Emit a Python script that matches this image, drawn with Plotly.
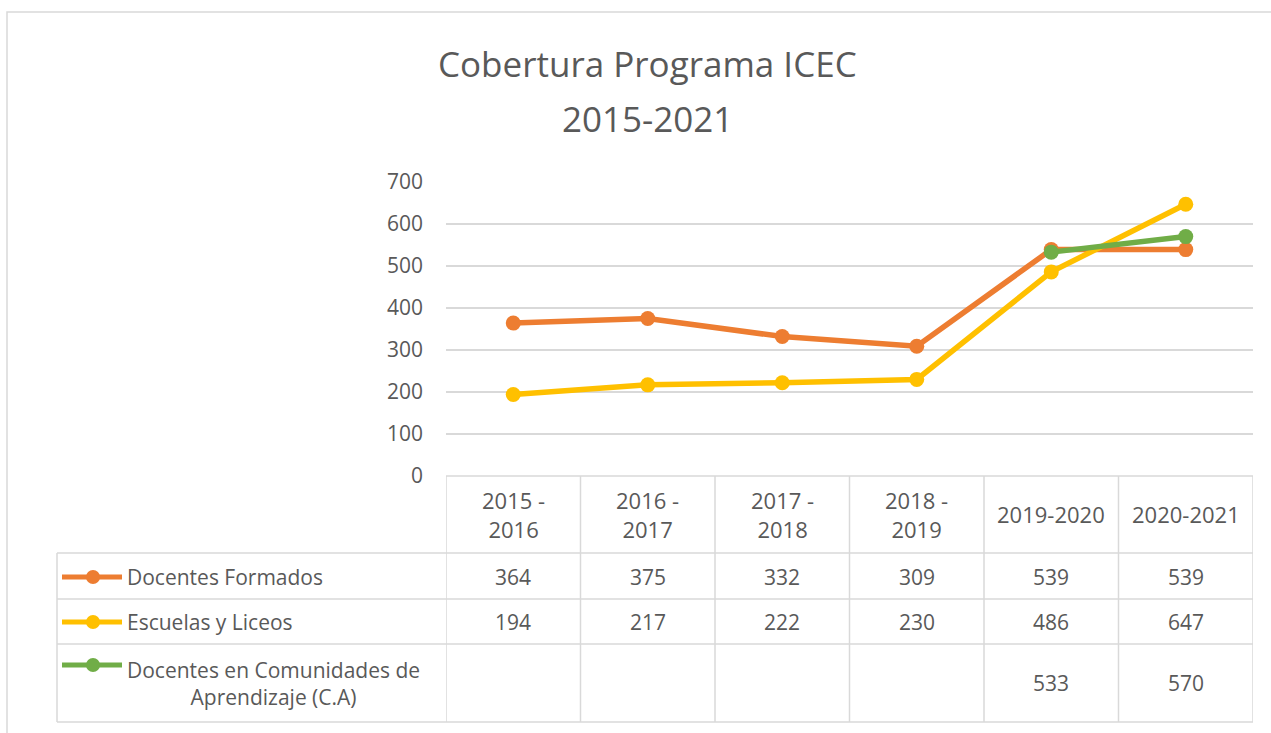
import plotly.graph_objects as go

# ---- data ----
categories = ["2015 - 2016", "2016 - 2017", "2017 - 2018", "2018 - 2019", "2019-2020", "2020-2021"]
series_names = ["Docentes Formados", "Escuelas y Liceos", "Docentes en Comunidades de Aprendizaje (C.A)"]
docentes_formados = [364, 375, 332, 309, 539, 539]
escuelas_liceos = [194, 217, 222, 230, 486, 647]
docentes_ca = [None, None, None, None, 533, 570]
y_ticks = [0, 100, 200, 300, 400, 500, 600, 700]
title_lines = ["Cobertura Programa ICEC", "2015-2021"]

series_values = [docentes_formados, escuelas_liceos, docentes_ca]
colors = ["#ED7D31", "#FFC000", "#70AD47"]
TXT = "#595959"
GRID = "#d9d9d9"
FONT = "Open Sans"

W, H = 1271, 733
L, R, T, B = 446, 18, 182, 257
PW = W - L - R
PH = H - T - B


def px(x):
    return (x - L) / PW


def py(y):
    return (H - B - y) / PH


fig = go.Figure()
for name, vals, c in zip(series_names, series_values, colors):
    fig.add_trace(go.Scatter(
        x=categories, y=vals, name=name, mode="lines+markers",
        line=dict(color=c, width=5.5), marker=dict(color=c, size=15),
        cliponaxis=False, showlegend=False,
    ))

shapes = []
ann = []

# frame around chart
shapes.append(dict(type="rect", xref="paper", yref="paper",
                   x0=px(7), x1=px(1290), y0=py(12), y1=py(760),
                   line=dict(color=GRID, width=1.5)))

# table horizontal lines
for yy, x0 in [(476, 446), (553, 57), (599, 57), (644, 57), (722, 57)]:
    shapes.append(dict(type="line", xref="paper", yref="paper",
                       x0=px(x0), x1=1, y0=py(yy), y1=py(yy),
                       line=dict(color=GRID, width=1.5)))
# table vertical lines at category boundaries
n = len(categories)
for i in range(n + 1):
    shapes.append(dict(type="line", xref="x", yref="paper",
                       x0=i - 0.5, x1=i - 0.5, y0=py(476), y1=py(722),
                       line=dict(color=GRID, width=1.5)))
shapes.append(dict(type="line", xref="paper", yref="paper",
                   x0=px(57), x1=px(57), y0=py(553), y1=py(722),
                   line=dict(color=GRID, width=1.5)))

# header cells
for c in categories:
    ann.append(dict(xref="x", yref="paper", x=c, y=py(514),
                    text=c.replace(" - ", " -<br>"), showarrow=False,
                    font=dict(size=22, color=TXT, family=FONT),
                    xanchor="center", yanchor="middle", align="center"))

# rows
row_y = [577, 622, 683]
icon_y = [577, 622, 665]
row_labels = [series_names[0], series_names[1],
              "Docentes en Comunidades de<br>Aprendizaje (C.A)"]
for vals, c, ry, iy, lab in zip(series_values, colors, row_y, icon_y, row_labels):
    shapes.append(dict(type="line", xref="paper", yref="paper",
                       x0=px(62), x1=px(122), y0=py(iy), y1=py(iy),
                       line=dict(color=c, width=5)))
    shapes.append(dict(type="circle", xref="paper", yref="paper",
                       x0=px(86), x1=px(100), y0=py(iy - 7), y1=py(iy + 7),
                       fillcolor=c, line=dict(color=c, width=0)))
    ann.append(dict(xref="paper", yref="paper", x=px(125), y=py(ry),
                    text=lab, showarrow=False, align="center",
                    font=dict(size=21, color=TXT, family=FONT),
                    xanchor="left", yanchor="middle"))
    for cat, v in zip(categories, vals):
        if v is None:
            continue
        ann.append(dict(xref="x", yref="paper", x=cat, y=py(ry),
                        text=str(v), showarrow=False,
                        font=dict(size=21, color=TXT, family=FONT),
                        xanchor="center", yanchor="middle"))

# title
for t, yy in zip(title_lines, [63, 118]):
    ann.append(dict(xref="paper", yref="paper", x=px(647), y=py(yy),
                    text=t, showarrow=False,
                    font=dict(size=35, color=TXT, family=FONT),
                    xanchor="center", yanchor="middle"))

fig.update_layout(
    width=W, height=H,
    margin=dict(l=L, r=R, t=T, b=B),
    paper_bgcolor="white", plot_bgcolor="white",
    font=dict(family=FONT, color=TXT),
    shapes=shapes, annotations=ann,
    xaxis=dict(type="category", range=[-0.5, n - 0.5], showticklabels=False,
               showgrid=False, zeroline=False, showline=False, ticks=""),
    yaxis=dict(range=[0, 700], tickvals=y_ticks, showgrid=True, gridcolor=GRID,
               gridwidth=1.5, zeroline=False, showline=False,
               tickfont=dict(size=21, color=TXT, family=FONT), ticks="",
               ticklabelstandoff=22),
)

fig.write_html("out.html", config={"displayModeBar": False},
               post_script="document.body.style.margin='0px';document.body.style.overflow='hidden';")
